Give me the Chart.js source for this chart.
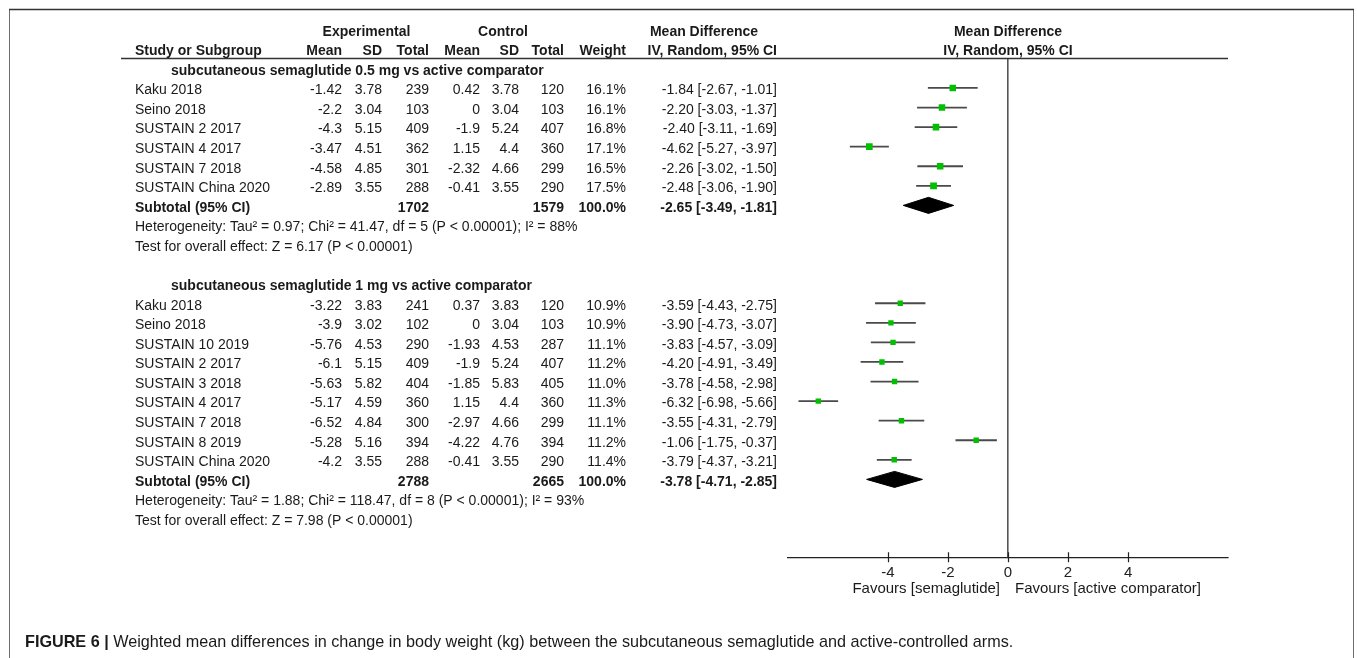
<!DOCTYPE html>
<html>
<head>
<meta charset="utf-8">
<title>Forest plot: change in body weight</title>
<script src="https://cdn.jsdelivr.net/npm/chart.js@4.4.1/dist/chart.umd.min.js"></script>
<style>
  html, body { margin: 0; padding: 0; background: #ffffff; }
  #box { position: relative; width: 1357px; height: 658px; }
  canvas { display: block; }
</style>
</head>
<body>
<div id="box"><canvas id="forest" width="1357" height="658"></canvas></div>
<script>
// ---- subgroup 1: semaglutide 0.5 mg ----
const g1Title = 'subcutaneous semaglutide 0.5 mg vs active comparator';
const g1Studies = ['Kaku 2018', 'Seino 2018', 'SUSTAIN 2 2017', 'SUSTAIN 4 2017', 'SUSTAIN 7 2018', 'SUSTAIN China 2020'];
const g1ExpMean = [-1.42, -2.2, -4.3, -3.47, -4.58, -2.89];
const g1ExpSD   = [3.78, 3.04, 5.15, 4.51, 4.85, 3.55];
const g1ExpN    = [239, 103, 409, 362, 301, 288];
const g1CtlMean = [0.42, 0, -1.9, 1.15, -2.32, -0.41];
const g1CtlSD   = [3.78, 3.04, 5.24, 4.4, 4.66, 3.55];
const g1CtlN    = [120, 103, 407, 360, 299, 290];
const g1Weight  = [16.1, 16.1, 16.8, 17.1, 16.5, 17.5];
const g1MD      = [-1.84, -2.20, -2.40, -4.62, -2.26, -2.48];
const g1Lo      = [-2.67, -3.03, -3.11, -5.27, -3.02, -3.06];
const g1Hi      = [-1.01, -1.37, -1.69, -3.97, -1.50, -1.90];
const g1Het  = 'Heterogeneity: Tau\u00B2 = 0.97; Chi\u00B2 = 41.47, df = 5 (P < 0.00001); I\u00B2 = 88%';
const g1Test = 'Test for overall effect: Z = 6.17 (P < 0.00001)';

// ---- subgroup 2: semaglutide 1 mg ----
const g2Title = 'subcutaneous semaglutide 1 mg vs active comparator';
const g2Studies = ['Kaku 2018', 'Seino 2018', 'SUSTAIN 10 2019', 'SUSTAIN 2 2017', 'SUSTAIN 3 2018', 'SUSTAIN 4 2017', 'SUSTAIN 7 2018', 'SUSTAIN 8 2019', 'SUSTAIN China 2020'];
const g2ExpMean = [-3.22, -3.9, -5.76, -6.1, -5.63, -5.17, -6.52, -5.28, -4.2];
const g2ExpSD   = [3.83, 3.02, 4.53, 5.15, 5.82, 4.59, 4.84, 5.16, 3.55];
const g2ExpN    = [241, 102, 290, 409, 404, 360, 300, 394, 288];
const g2CtlMean = [0.37, 0, -1.93, -1.9, -1.85, 1.15, -2.97, -4.22, -0.41];
const g2CtlSD   = [3.83, 3.04, 4.53, 5.24, 5.83, 4.4, 4.66, 4.76, 3.55];
const g2CtlN    = [120, 103, 287, 407, 405, 360, 299, 394, 290];
const g2Weight  = [10.9, 10.9, 11.1, 11.2, 11.0, 11.3, 11.1, 11.2, 11.4];
const g2MD      = [-3.59, -3.90, -3.83, -4.20, -3.78, -6.32, -3.55, -1.06, -3.79];
const g2Lo      = [-4.43, -4.73, -4.57, -4.91, -4.58, -6.98, -4.31, -1.75, -4.37];
const g2Hi      = [-2.75, -3.07, -3.09, -3.49, -2.98, -5.66, -2.79, -0.37, -3.21];
const g2Het  = 'Heterogeneity: Tau\u00B2 = 1.88; Chi\u00B2 = 118.47, df = 8 (P < 0.00001); I\u00B2 = 93%';
const g2Test = 'Test for overall effect: Z = 7.98 (P < 0.00001)';

// ---- pooled (random effects) subtotals, one entry per subgroup ----
const subWeight = [100.0, 100.0];
const subMD = [-2.65, -3.78];
const subLo = [-3.49, -4.71];
const subHi = [-1.81, -2.85];

// ---- axis ----
const xTicks = [-4, -2, 0, 2, 4];
const favoursLeft = 'Favours [semaglutide]';
const favoursRight = 'Favours [active comparator]';
const captionLead = 'FIGURE 6 | ';
const captionText = 'Weighted mean differences in change in body weight (kg) between the subcutaneous semaglutide and active-controlled arms.';

// ---- row layout: one y unit per table row ----
const groups = [
  { title: g1Title, studies: g1Studies, em: g1ExpMean, es: g1ExpSD, en: g1ExpN, cm: g1CtlMean, cs: g1CtlSD, cn: g1CtlN, w: g1Weight, md: g1MD, lo: g1Lo, hi: g1Hi, het: g1Het, test: g1Test },
  { title: g2Title, studies: g2Studies, em: g2ExpMean, es: g2ExpSD, en: g2ExpN, cm: g2CtlMean, cs: g2CtlSD, cn: g2CtlN, w: g2Weight, md: g2MD, lo: g2Lo, hi: g2Hi, het: g2Het, test: g2Test }
];
let row = 0;
groups.forEach((g, gi) => {
  g.headRow = row; row += 1;
  g.rows = g.studies.map(() => row++);
  g.subRow = row++;
  g.hetRow = row++;
  g.testRow = row++;
  row += 1;
  g.sub = { md: subMD[gi], lo: subLo[gi], hi: subHi[gi], w: subWeight[gi] };
});

// ---- datasets built from the arrays above ----
const markerPts = [], markerRadius = [], ciPts = [];
groups.forEach(g => {
  g.rows.forEach((r, i) => {
    markerPts.push({ x: g.md[i], y: r });
    markerRadius.push(Math.sqrt(g.w[i]) * 1.14);
    ciPts.push({ x: g.lo[i], y: r }, { x: g.hi[i], y: r }, { x: null, y: null });
  });
});
const diamondSets = groups.map(g => {
  const r = g.subRow, s = g.sub, h = 0.41;
  return {
    data: [{ x: s.lo, y: r }, { x: s.md, y: r - h }, { x: s.hi, y: r }, { x: s.md, y: r + h }, { x: s.lo, y: r }],
    showLine: true, fill: 'shape', tension: 0,
    backgroundColor: '#000000', borderColor: '#000000', borderWidth: 1,
    pointRadius: 0, order: 2
  };
});

const FONT = '"Liberation Sans", Arial, sans-serif';
const COL = { name: 135, head: 171, expMean: 342, expSD: 382, expN: 429, ctlMean: 480, ctlSD: 519, ctlN: 564, weight: 626, ci: 777 };

function put(ctx, s, x, y, align, bold, size) {
  ctx.font = (bold ? 'bold ' : '') + size + 'px ' + FONT;
  ctx.textAlign = align;
  ctx.textBaseline = 'middle';
  ctx.fillText(s, x, y);
}
const ciText = (m, l, h) => m.toFixed(2) + ' [' + l.toFixed(2) + ', ' + h.toFixed(2) + ']';
const sum = a => a.reduce((p, v) => p + v, 0);

// page frame drawn under everything
const framePlugin = {
  id: 'frame',
  beforeDraw(chart) {
    const ctx = chart.ctx;
    ctx.save();
    ctx.fillStyle = '#ffffff';
    ctx.fillRect(0, 0, chart.width, chart.height);
    ctx.strokeStyle = '#6e6e6e';
    ctx.lineWidth = 1;
    ctx.beginPath();
    ctx.moveTo(9.5, 10); ctx.lineTo(9.5, chart.height);
    ctx.moveTo(1353.5, 10); ctx.lineTo(1353.5, chart.height);
    ctx.stroke();
    ctx.strokeStyle = '#333333';
    ctx.lineWidth = 1.6;
    ctx.beginPath();
    ctx.moveTo(9, 9.5); ctx.lineTo(1354, 9.5);
    ctx.stroke();
    ctx.restore();
  }
};

// study table, headings, tick marks and caption
const tablePlugin = {
  id: 'table',
  afterDraw(chart) {
    const ctx = chart.ctx;
    const ys = chart.scales.y, xs = chart.scales.x, area = chart.chartArea;
    const Y = r => ys.getPixelForValue(r) + 2.5;
    ctx.save();
    ctx.fillStyle = '#1a1a1a';

    // headings
    const h1 = ys.getPixelForValue(-1.85), h2 = ys.getPixelForValue(-0.9);
    put(ctx, 'Experimental', (COL.expMean - 38 + COL.expN) / 2, h1, 'center', true, 14);
    put(ctx, 'Control', (COL.ctlMean - 38 + COL.ctlN) / 2, h1, 'center', true, 14);
    put(ctx, 'Mean Difference', (COL.ci - 146 + COL.ci) / 2, h1, 'center', true, 14);
    put(ctx, 'Mean Difference', xs.getPixelForValue(0), h1, 'center', true, 14);
    put(ctx, 'Study or Subgroup', COL.name, h2, 'left', true, 14);
    put(ctx, 'Mean', COL.expMean, h2, 'right', true, 14);
    put(ctx, 'SD', COL.expSD, h2, 'right', true, 14);
    put(ctx, 'Total', COL.expN, h2, 'right', true, 14);
    put(ctx, 'Mean', COL.ctlMean, h2, 'right', true, 14);
    put(ctx, 'SD', COL.ctlSD, h2, 'right', true, 14);
    put(ctx, 'Total', COL.ctlN, h2, 'right', true, 14);
    put(ctx, 'Weight', COL.weight, h2, 'right', true, 14);
    put(ctx, 'IV, Random, 95% CI', COL.ci, h2, 'right', true, 14);
    put(ctx, 'IV, Random, 95% CI', xs.getPixelForValue(0), h2, 'center', true, 14);

    // rule under the headings
    ctx.strokeStyle = '#333333';
    ctx.lineWidth = 1.5;
    ctx.beginPath();
    ctx.moveTo(121, area.top); ctx.lineTo(area.right, area.top);
    ctx.stroke();

    groups.forEach(g => {
      put(ctx, g.title, COL.head, Y(g.headRow), 'left', true, 14);
      g.rows.forEach((r, i) => {
        const y = Y(r);
        put(ctx, g.studies[i], COL.name, y, 'left', false, 14);
        put(ctx, String(g.em[i]), COL.expMean, y, 'right', false, 14);
        put(ctx, String(g.es[i]), COL.expSD, y, 'right', false, 14);
        put(ctx, String(g.en[i]), COL.expN, y, 'right', false, 14);
        put(ctx, String(g.cm[i]), COL.ctlMean, y, 'right', false, 14);
        put(ctx, String(g.cs[i]), COL.ctlSD, y, 'right', false, 14);
        put(ctx, String(g.cn[i]), COL.ctlN, y, 'right', false, 14);
        put(ctx, g.w[i].toFixed(1) + '%', COL.weight, y, 'right', false, 14);
        put(ctx, ciText(g.md[i], g.lo[i], g.hi[i]), COL.ci, y, 'right', false, 14);
      });
      const ys2 = Y(g.subRow);
      put(ctx, 'Subtotal (95% CI)', COL.name, ys2, 'left', true, 14);
      put(ctx, String(sum(g.en)), COL.expN, ys2, 'right', true, 14);
      put(ctx, String(sum(g.cn)), COL.ctlN, ys2, 'right', true, 14);
      put(ctx, g.sub.w.toFixed(1) + '%', COL.weight, ys2, 'right', true, 14);
      put(ctx, ciText(g.sub.md, g.sub.lo, g.sub.hi), COL.ci, ys2, 'right', true, 14);
      put(ctx, g.het, COL.name, Y(g.hetRow), 'left', false, 14);
      put(ctx, g.test, COL.name, Y(g.testRow), 'left', false, 14);
    });

    // tick marks crossing the axis line
    ctx.strokeStyle = '#222222';
    ctx.lineWidth = 1.2;
    ctx.beginPath();
    xTicks.forEach(v => {
      const x = Math.round(xs.getPixelForValue(v)) + 0.5;
      ctx.moveTo(x, area.bottom - 5.5); ctx.lineTo(x, area.bottom + 4.5);
    });
    ctx.stroke();

    // favours labels
    const fy = area.bottom + 31;
    put(ctx, favoursLeft, xs.getPixelForValue(0) - 8, fy, 'right', false, 15);
    put(ctx, favoursRight, xs.getPixelForValue(0) + 7, fy, 'left', false, 15);

    // caption
    ctx.font = 'bold 16.2px ' + FONT;
    const lw = ctx.measureText(captionLead).width;
    put(ctx, captionLead, 25, 643, 'left', true, 16.2);
    put(ctx, captionText, 25 + lw, 643, 'left', false, 16.2);
    ctx.restore();
  }
};

new Chart(document.getElementById('forest'), {
  type: 'scatter',
  data: {
    datasets: [
      {
        data: markerPts, pointStyle: 'rect', pointRadius: markerRadius,
        backgroundColor: '#00c000', borderColor: '#00c000', borderWidth: 0, order: 0
      },
      {
        data: ciPts, showLine: true, spanGaps: false, pointRadius: 0,
        borderColor: '#4a4a4a', borderWidth: 1.8, order: 1
      },
      ...diamondSets
    ]
  },
  options: {
    responsive: false,
    animation: false,
    devicePixelRatio: 1,
    events: [],
    layout: { padding: { left: 788, right: 129, top: 58.6, bottom: 0 } },
    plugins: { legend: { display: false }, tooltip: { enabled: false } },
    scales: {
      x: {
        type: 'linear', position: 'bottom', min: -7.33, max: 7.33,
        afterBuildTicks: s => { s.ticks = xTicks.map(v => ({ value: v })); },
        afterFit: s => { s.height = 658 - 557.7; },
        ticks: {
          autoSkip: false, maxRotation: 0, padding: 6, color: '#222222',
          font: { family: 'Liberation Sans', size: 15 },
          callback: v => String(v)
        },
        grid: {
          drawTicks: false, lineWidth: 1.6,
          color: c => (c.tick && c.tick.value === 0) ? '#555555' : 'rgba(0,0,0,0)'
        },
        border: { display: true, color: '#222222', width: 1.3 }
      },
      y: { type: 'linear', min: -0.5, max: 25, reverse: true, display: false }
    }
  },
  plugins: [framePlugin, tablePlugin]
});
</script>
</body>
</html>
